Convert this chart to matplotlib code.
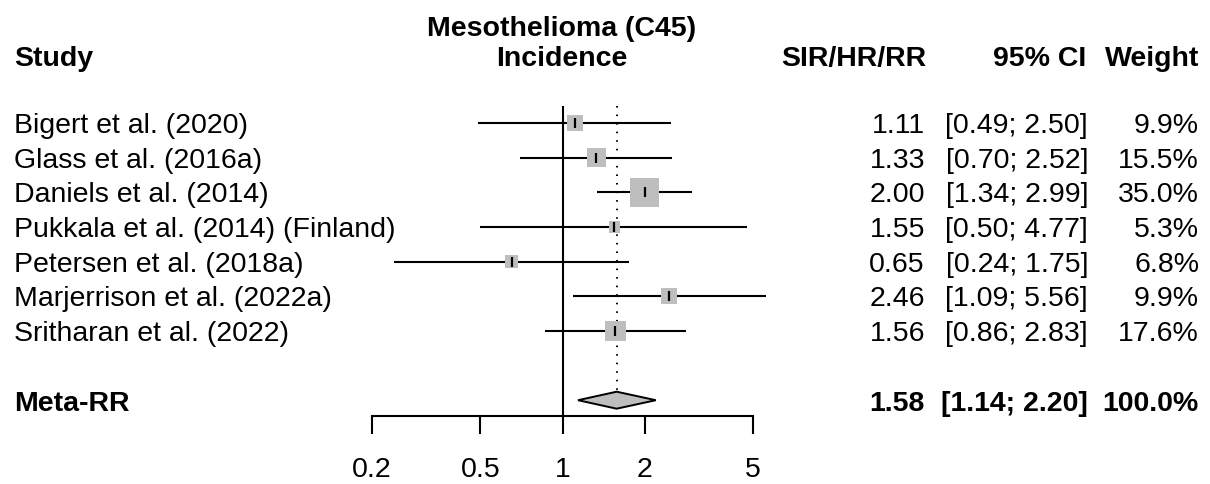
import matplotlib
matplotlib.use("Agg")
import matplotlib.pyplot as plt
import matplotlib.transforms as mtransforms
from matplotlib.patches import Polygon
import numpy as np

# dados do forest plot
estudos = ["Bigert et al. (2020)", "Glass et al. (2016a)", "Daniels et al. (2014)",
           "Pukkala et al. (2014) (Finland)", "Petersen et al. (2018a)",
           "Marjerrison et al. (2022a)", "Sritharan et al. (2022)"]
rr = [1.11, 1.33, 2.00, 1.55, 0.65, 2.46, 1.56]
ic_inf = [0.49, 0.70, 1.34, 0.50, 0.24, 1.09, 0.86]
ic_sup = [2.50, 2.52, 2.99, 4.77, 1.75, 5.56, 2.83]
pesos = [9.9, 15.5, 35.0, 5.3, 6.8, 9.9, 17.6]

meta_rr = 1.58
meta_inf = 1.14
meta_sup = 2.20
meta_peso = 100.0

ticks = [0.2, 0.5, 1, 2, 5]
tick_labels = ["0.2", "0.5", "1", "2", "5"]

plt.rcParams['font.family'] = ['Liberation Sans', 'DejaVu Sans']
fs = 20.5

W, H = 1210, 485
fig = plt.figure(figsize=(W / 100, H / 100), dpi=100)

# linha k fica em 124 + 34.65*k pixels (de cima)
passo = 34.65
y0 = 124
ax = fig.add_axes([372 / W, 0, (753 - 372) / W, 1])
ax.set_xscale('log')
ax.set_xlim(0.2, 5)
ax.set_ylim((H - y0) / passo, -y0 / passo)

linhas = np.arange(len(estudos))
linha_meta = len(estudos) + 1
y_eixo = (417 - y0) / passo

# linha de nulidade e linha do efeito combinado
ax.vlines(1, -0.5, y_eixo, color='black', lw=1.5)
h_diam = 8.5 / passo
ax.vlines(meta_rr, -0.5, linha_meta - h_diam, color='black', lw=1.4,
          linestyles=(0, (0.8, 3.6)))

# intervalos de confiança
ax.hlines(linhas, ic_inf, ic_sup, color='black', lw=1.5, clip_on=False, zorder=2)

# quadrados proporcionais ao peso (área ~ peso)
lado_px = 4.95 * np.sqrt(np.array(pesos))
ax.scatter(rr, linhas, s=(lado_px * 0.72) ** 2, marker='s', color='#BEBEBE',
           linewidths=0, zorder=3, clip_on=False)
ax.plot(rr, linhas, linestyle='none', marker='|', ms=7.5, mew=1.6, color='black', zorder=4)

# diamante
diam = Polygon([(meta_inf, linha_meta), (meta_rr, linha_meta - h_diam),
                (meta_sup, linha_meta), (meta_rr, linha_meta + h_diam)],
               closed=True, facecolor='#BEBEBE', edgecolor='black', lw=1.4, zorder=3)
ax.add_patch(diam)

# eixo x
for lado in ['top', 'left', 'right']:
    ax.spines[lado].set_visible(False)
ax.spines['bottom'].set_position(('data', y_eixo))
ax.spines['bottom'].set_linewidth(1.5)
ax.set_xticks(ticks)
ax.set_xticklabels(tick_labels)
ax.xaxis.set_minor_locator(matplotlib.ticker.NullLocator())
ax.tick_params(axis='x', direction='out', length=13, width=1.5, pad=16, labelsize=fs)
ax.set_yticks([])
ax.patch.set_visible(False)

# colunas de texto
trans = mtransforms.blended_transform_factory(fig.transFigure, ax.transData)
desl = 10.2 / passo  # metade da altura das maiúsculas


def txt(xpx, linha, s, ha='left', bold=False):
    ax.text(xpx / W, linha + desl, s, transform=trans, ha=ha, va='baseline',
            fontsize=fs, fontweight='bold' if bold else 'normal', clip_on=False)


linha_cab = (66 - y0) / passo - desl
linha_tit = (36 - y0) / passo - desl
txt(562, linha_tit, "Mesothelioma (C45)", ha='center', bold=True)
txt(562, linha_cab, "Incidence", ha='center', bold=True)
txt(14, linha_cab, "Study", bold=True)
txt(926, linha_cab, "SIR/HR/RR", ha='right', bold=True)
txt(1086, linha_cab, "95% CI", ha='right', bold=True)
txt(1199, linha_cab, "Weight", ha='right', bold=True)

for i in range(len(estudos)):
    txt(14, linhas[i] - 0.03, estudos[i])
    txt(925, linhas[i] - 0.03, f"{rr[i]:.2f}", ha='right')
    txt(1088, linhas[i] - 0.03, f"[{ic_inf[i]:.2f}; {ic_sup[i]:.2f}]", ha='right')
    txt(1199, linhas[i] - 0.03, f"{pesos[i]:.1f}%", ha='right')

txt(14, linha_meta, "Meta-RR", bold=True)
txt(925, linha_meta, f"{meta_rr:.2f}", ha='right', bold=True)
txt(1088, linha_meta, f"[{meta_inf:.2f}; {meta_sup:.2f}]", ha='right', bold=True)
txt(1199, linha_meta, f"{meta_peso:.1f}%", ha='right', bold=True)

fig.savefig("out.png", dpi=100)
